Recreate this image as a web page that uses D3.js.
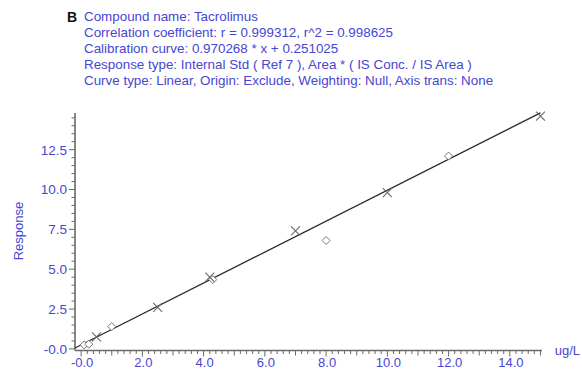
<!DOCTYPE html>
<html><head><meta charset="utf-8">
<script src="https://cdn.jsdelivr.net/npm/d3@7"></script>
<style>
html,body{margin:0;padding:0;background:#fff;}
svg{display:block;}
text{font-family:"Liberation Sans",Arial,sans-serif;}
</style></head>
<body>
<svg id="chart" width="582" height="370"></svg>
<script>
// ---- data ----
const headerLines = [
  "Compound name: Tacrolimus",
  "Correlation coefficient: r = 0.999312, r^2 = 0.998625",
  "Calibration curve: 0.970268 * x + 0.251025",
  "Response type: Internal Std ( Ref 7 ), Area * ( IS Conc. / IS Area )",
  "Curve type: Linear, Origin: Exclude, Weighting: Null, Axis trans: None"
];
const panelLabel = "B";
const slope = 0.970268;
const intercept = 0.251025;
// calibration standards (x markers)
const crossX = [0.5, 2.5, 4.2, 7.0, 10.0, 15.0];
const crossY = [0.75, 2.6, 4.5, 7.4, 9.8, 14.6];
// QC / other points (diamonds)
const diamondX = [0.1, 0.25, 1.0, 4.3, 8.0, 12.0];
const diamondY = [0.25, 0.3, 1.4, 4.35, 6.8, 12.1];
const xTickValues = [0, 2, 4, 6, 8, 10, 12, 14];
const xTickLabels = ["-0.0", "2.0", "4.0", "6.0", "8.0", "10.0", "12.0", "14.0"];
const yTickValues = [0, 2.5, 5, 7.5, 10, 12.5];
const yTickLabels = ["-0.0", "2.5", "5.0", "7.5", "10.0", "12.5"];
const xUnit = "ug/L";
const yTitle = "Response";

// ---- drawing ----
const blue = "#4646d2";
const axisCol = "#6a6a6a";
const svg = d3.select("#chart");

const x = d3.scaleLinear().domain([-0.2, 15.05]).range([75, 542]);
const y = d3.scaleLinear().domain([-0.1, 14.8]).range([350.5, 113]);

// header
svg.append("text").attr("x", 67).attr("y", 22)
  .attr("font-size", 14).attr("font-weight", "bold").attr("fill", "#111")
  .text(panelLabel);
svg.selectAll("text.hdr").data(headerLines).join("text")
  .attr("class", "hdr")
  .attr("x", 84).attr("y", (d, i) => 21 + i * 16)
  .attr("font-size", 13.4).attr("fill", blue)
  .text(d => d);

// y axis
const yAxisG = svg.append("g").attr("transform", `translate(${x.range()[0]},0)`);
const yMinor = d3.range(0, 14.75, 0.5);
yAxisG.selectAll("line.minor").data(yMinor).join("line")
  .attr("x1", 0).attr("x2", d => (d % 2.5 === 0) ? -6 : -3.5)
  .attr("y1", d => y(d)).attr("y2", d => y(d))
  .attr("stroke", axisCol).attr("stroke-width", 1);
yAxisG.append("line").attr("x1", 0).attr("x2", 0)
  .attr("y1", y.range()[0]).attr("y2", y.range()[1])
  .attr("stroke", axisCol).attr("stroke-width", 1.6);
yAxisG.selectAll("text.tl").data(yTickValues).join("text")
  .attr("class", "tl")
  .attr("x", -8).attr("y", d => y(d)).attr("dy", "0.36em")
  .attr("text-anchor", "end").attr("font-size", 13.5).attr("fill", blue)
  .text((d, i) => yTickLabels[i]);

// x axis
const xAxisG = svg.append("g").attr("transform", `translate(0,${y.range()[0]})`);
const xMinor = d3.range(0, 15.01, 0.2).map(v => Math.round(v * 10) / 10);
xAxisG.selectAll("line.minor").data(xMinor).join("line")
  .attr("y1", 0).attr("y2", d => (Math.abs(d % 2) < 1e-6) ? 6 : (Math.abs(d % 1) < 1e-6 ? 5 : 3.5))
  .attr("x1", d => x(d)).attr("x2", d => x(d))
  .attr("stroke", axisCol).attr("stroke-width", 1);
xAxisG.append("line").attr("y1", 0).attr("y2", 0)
  .attr("x1", x.range()[0]).attr("x2", x.range()[1])
  .attr("stroke", axisCol).attr("stroke-width", 1.6);
xAxisG.selectAll("text.tl").data(xTickValues).join("text")
  .attr("class", "tl")
  .attr("x", d => x(d) + 1).attr("y", 16)
  .attr("text-anchor", "middle").attr("font-size", 13).attr("fill", blue)
  .text((d, i) => xTickLabels[i]);
svg.append("text").attr("x", 580).attr("y", 355)
  .attr("text-anchor", "end")
  .attr("font-size", 13).attr("fill", blue).text(xUnit);

// y title
svg.append("text")
  .attr("transform", `translate(23,231) rotate(-90)`)
  .attr("text-anchor", "middle").attr("font-size", 13).attr("fill", blue)
  .text(yTitle);

// fit line
const fitXs = [x.domain()[0], 15];
svg.append("path")
  .attr("d", d3.line().x(d => x(d)).y(d => y(slope * d + intercept))(fitXs))
  .attr("fill", "none").attr("stroke", "#2a2a2a").attr("stroke-width", 1.3);

// diamonds
const ds = 4;
svg.selectAll("path.dia").data(diamondX.map((v, i) => [v, diamondY[i]])).join("path")
  .attr("class", "dia")
  .attr("d", d => `M${x(d[0])},${y(d[1]) - ds}L${x(d[0]) + ds},${y(d[1])}L${x(d[0])},${y(d[1]) + ds}L${x(d[0]) - ds},${y(d[1])}Z`)
  .attr("fill", "#fff").attr("stroke", "#777").attr("stroke-width", 1);

// crosses
const cs = 4.5;
svg.selectAll("path.cross").data(crossX.map((v, i) => [v, crossY[i]])).join("path")
  .attr("class", "cross")
  .attr("d", d => {
    const cx = x(d[0]), cy = y(d[1]);
    return `M${cx - cs},${cy - cs}L${cx + cs},${cy + cs}M${cx - cs},${cy + cs}L${cx + cs},${cy - cs}`;
  })
  .attr("fill", "none").attr("stroke", "#6a6a6a").attr("stroke-width", 1.1);
</script>
</body></html>
